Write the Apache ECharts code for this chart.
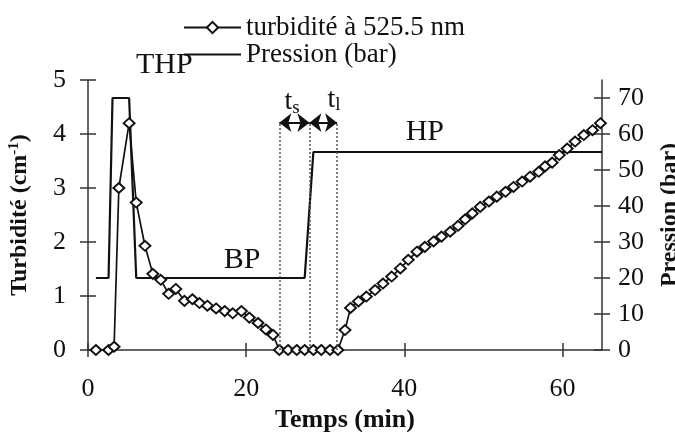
<!DOCTYPE html>
<html>
<head>
<meta charset="utf-8">
<script src="https://cdn.jsdelivr.net/npm/echarts@6/dist/echarts.min.js"></script>
<style>
  html, body { margin: 0; padding: 0; background: #fff; }
  #c { width: 675px; height: 432px; }
</style>
</head>
<body>
<div id="c"></div>
<script>
// Turbidité mesurée à 525.5 nm (cm-1) en fonction du temps (min)
const tempsTurbidite = [1.0, 2.6, 3.3, 3.9, 5.2, 6.1, 7.2, 8.2, 9.2, 10.2, 11.1, 12.2, 13.2, 14.1, 15.1,
  16.2, 17.3, 18.3, 19.4, 20.4, 21.5, 22.5, 23.4, 24.2, 25.3, 26.4, 27.4, 28.5, 29.5, 30.6, 31.6,
  32.5, 33.2, 34.2, 35.2, 36.3, 37.3, 38.4, 39.5, 40.5, 41.6, 42.6, 43.7, 44.7, 45.8, 46.8, 47.7,
  48.6, 49.6, 50.7, 51.7, 52.8, 53.8, 54.9, 55.9, 57.0, 57.8, 58.7, 59.6, 60.6, 61.6, 62.7, 63.8, 64.8];
const turbidite = [0, 0, 0.06, 3.0, 4.2, 2.73, 1.93, 1.41, 1.30, 1.04, 1.13, 0.91, 0.94, 0.87, 0.82,
  0.77, 0.72, 0.68, 0.72, 0.60, 0.50, 0.38, 0.28, 0, 0, 0, 0, 0, 0, 0, 0,
  0.37, 0.78, 0.90, 0.99, 1.11, 1.23, 1.36, 1.51, 1.67, 1.82, 1.91, 2.01, 2.10, 2.19, 2.30, 2.42,
  2.53, 2.65, 2.75, 2.84, 2.93, 3.02, 3.12, 3.21, 3.30, 3.40, 3.47, 3.61, 3.73, 3.86, 3.98, 4.07, 4.20];

// Consigne de pression (bar)
const tempsPression = [1.0, 2.6, 3.1, 5.2, 6.1, 27.4, 28.5, 65];
const pression = [20, 20, 70, 70, 20, 20, 55, 55];

// Graduations
const ticksTemps = [0, 20, 40, 60];
const ticksTurbidite = [0, 1, 2, 3, 4, 5];
const ticksPression = [0, 10, 20, 30, 40, 50, 60, 70];

// Intervalles t_s et t_l (min) et hauteur des flèches (cm-1)
const limitesIntervalles = [24.2, 28.0, 31.5];
const hauteurFleches = 4.21;

// Annotations : [texte, temps, turbidité]
const annotations = [
  ['THP', 9.65, 5.27],
  ['BP', 19.5, 1.67],
  ['HP', 42.6, 4.04],
  ['{t|t}{s|s}', 25.8, 4.6],
  ['{t|t}{s|l}', 31.1, 4.64]
];

const serif = "'Liberation Serif', 'Times New Roman', serif";
const ink = '#111';
const axisInk = '#333';

const chart = echarts.init(document.getElementById('c'), null, { renderer: 'canvas' });

function zip(xs, ys) { return xs.map((x, i) => [x, ys[i]]); }

// Ligne d'axe visible (objet neuf à chaque appel)
function traitAxe() { return { show: true, onZero: false, lineStyle: { color: axisInk, width: 1.5 } }; }
// Graduations : vers l'extérieur (axe principal) ou l'intérieur (axe doublé)
function graduations(vals, inside, len) {
  return { show: true, inside: inside, length: len, customValues: vals, lineStyle: { color: axisInk, width: 1.5 } };
}

const option = {
  animation: false,
  backgroundColor: '#fff',
  textStyle: { fontFamily: serif, color: ink },
  grid: { left: 88, right: 73, top: 80, bottom: 82, containLabel: false, outerBoundsMode: 'none' },
  legend: {
    orient: 'vertical',
    left: 183,
    top: 14,
    padding: 0,
    itemGap: 0,
    itemWidth: 57,
    itemHeight: 14,
    textStyle: { fontFamily: serif, fontSize: 27, color: ink, lineHeight: 21 },
    data: ['turbidité à 525.5 nm', 'Pression (bar)']
  },
  xAxis: [
    {
      type: 'value', min: 0, max: 65, interval: 20, position: 'bottom',
      name: 'Temps (min)', nameLocation: 'middle', nameGap: 54,
      nameTextStyle: { fontFamily: serif, fontSize: 26, fontWeight: 'bold', color: ink },
      axisLine: traitAxe(),
      axisTick: graduations(ticksTemps, false, 7),
      axisLabel: { customValues: ticksTemps, margin: 26, fontFamily: serif, fontSize: 26, color: ink },
      splitLine: { show: false }
    },
    {
      type: 'value', min: 0, max: 65, interval: 20, position: 'bottom',
      axisLine: { show: false, onZero: false },
      axisTick: graduations(ticksTemps, true, 7),
      axisLabel: { show: false },
      splitLine: { show: false }
    }
  ],
  yAxis: [
    {
      type: 'value', min: 0, max: 5, interval: 1, position: 'left',
      name: 'Turbidité (cm{sup|-1})', nameLocation: 'middle', nameGap: 56, nameRotate: 90,
      nameTextStyle: {
        fontFamily: serif, fontSize: 24, fontWeight: 'bold', color: ink,
        rich: { sup: { fontFamily: serif, fontSize: 15, fontWeight: 'bold', color: ink, verticalAlign: 'top', padding: [0, 0, 10, 0] } }
      },
      axisLine: traitAxe(),
      axisTick: graduations(ticksTurbidite, false, 8),
      axisLabel: { customValues: ticksTurbidite, margin: 22, fontFamily: serif, fontSize: 26, color: ink },
      splitLine: { show: false }
    },
    {
      type: 'value', min: 0, max: 75, interval: 10, position: 'right',
      name: 'Pression (bar)', nameLocation: 'middle', nameGap: 56, nameRotate: 90,
      nameTextStyle: { fontFamily: serif, fontSize: 24, fontWeight: 'bold', color: ink },
      axisLine: traitAxe(),
      axisTick: graduations(ticksPression, false, 8),
      axisLabel: { customValues: ticksPression, margin: 16, fontFamily: serif, fontSize: 26, color: ink },
      splitLine: { show: false }
    },
    {
      type: 'value', min: 0, max: 5, interval: 1, position: 'left',
      axisLine: { show: false, onZero: false },
      axisTick: graduations(ticksTurbidite, true, 8),
      axisLabel: { show: false },
      splitLine: { show: false }
    },
    {
      type: 'value', min: 0, max: 75, interval: 10, position: 'right',
      axisLine: { show: false, onZero: false },
      axisTick: graduations(ticksPression, true, 8),
      axisLabel: { show: false },
      splitLine: { show: false }
    }
  ],
  series: [
    {
      name: 'Pression (bar)',
      type: 'line',
      xAxisIndex: 0, yAxisIndex: 1,
      data: zip(tempsPression, pression),
      symbol: 'none',
      lineStyle: { color: ink, width: 2.2 },
      // symbole masqué : seule la ligne apparaît dans la légende
      itemStyle: { color: ink, opacity: 0 },
      z: 2
    },
    {
      name: 'turbidité à 525.5 nm',
      type: 'line',
      xAxisIndex: 0, yAxisIndex: 0,
      data: zip(tempsTurbidite, turbidite),
      symbol: 'diamond',
      symbolSize: [11, 10],
      showAllSymbol: true,
      lineStyle: { color: ink, width: 1.7 },
      itemStyle: { color: '#fff', borderColor: ink, borderWidth: 1.9 },
      z: 3,
      markLine: {
        silent: true,
        symbol: ['none', 'none'],
        label: { show: false },
        animation: false,
        data: limitesIntervalles.map(t => [
          { coord: [t, 0], lineStyle: { type: [2, 2], color: '#555', width: 1.5 } },
          { coord: [t, hauteurFleches] }
        ]).concat([
          [
            { coord: [limitesIntervalles[0], hauteurFleches], symbol: 'arrow', symbolSize: [14, 12], lineStyle: { type: 'solid', color: ink, width: 2 } },
            { coord: [limitesIntervalles[1], hauteurFleches], symbol: 'arrow', symbolSize: [14, 12] }
          ],
          [
            { coord: [limitesIntervalles[1], hauteurFleches], symbol: 'arrow', symbolSize: [14, 12], lineStyle: { type: 'solid', color: ink, width: 2 } },
            { coord: [limitesIntervalles[2], hauteurFleches], symbol: 'arrow', symbolSize: [14, 12] }
          ]
        ])
      }
    }
  ]
};

chart.setOption(option);

// Étiquettes de zones et d'intervalles, placées en coordonnées de données
chart.setOption({
  graphic: annotations.map(([txt, t, v]) => {
    const p = chart.convertToPixel({ xAxisIndex: 0, yAxisIndex: 0 }, [t, v]);
    return {
      type: 'text',
      x: p[0], y: p[1],
      silent: true,
      style: {
        text: txt,
        fontFamily: serif,
        fontSize: 30,
        fill: ink,
        align: 'center',
        verticalAlign: 'middle',
        rich: {
          t: { fontFamily: serif, fontSize: 28, fill: ink },
          s: { fontFamily: serif, fontSize: 19, fill: ink, padding: [12, 0, 0, 0] }
        }
      }
    };
  })
});
</script>
</body>
</html>
